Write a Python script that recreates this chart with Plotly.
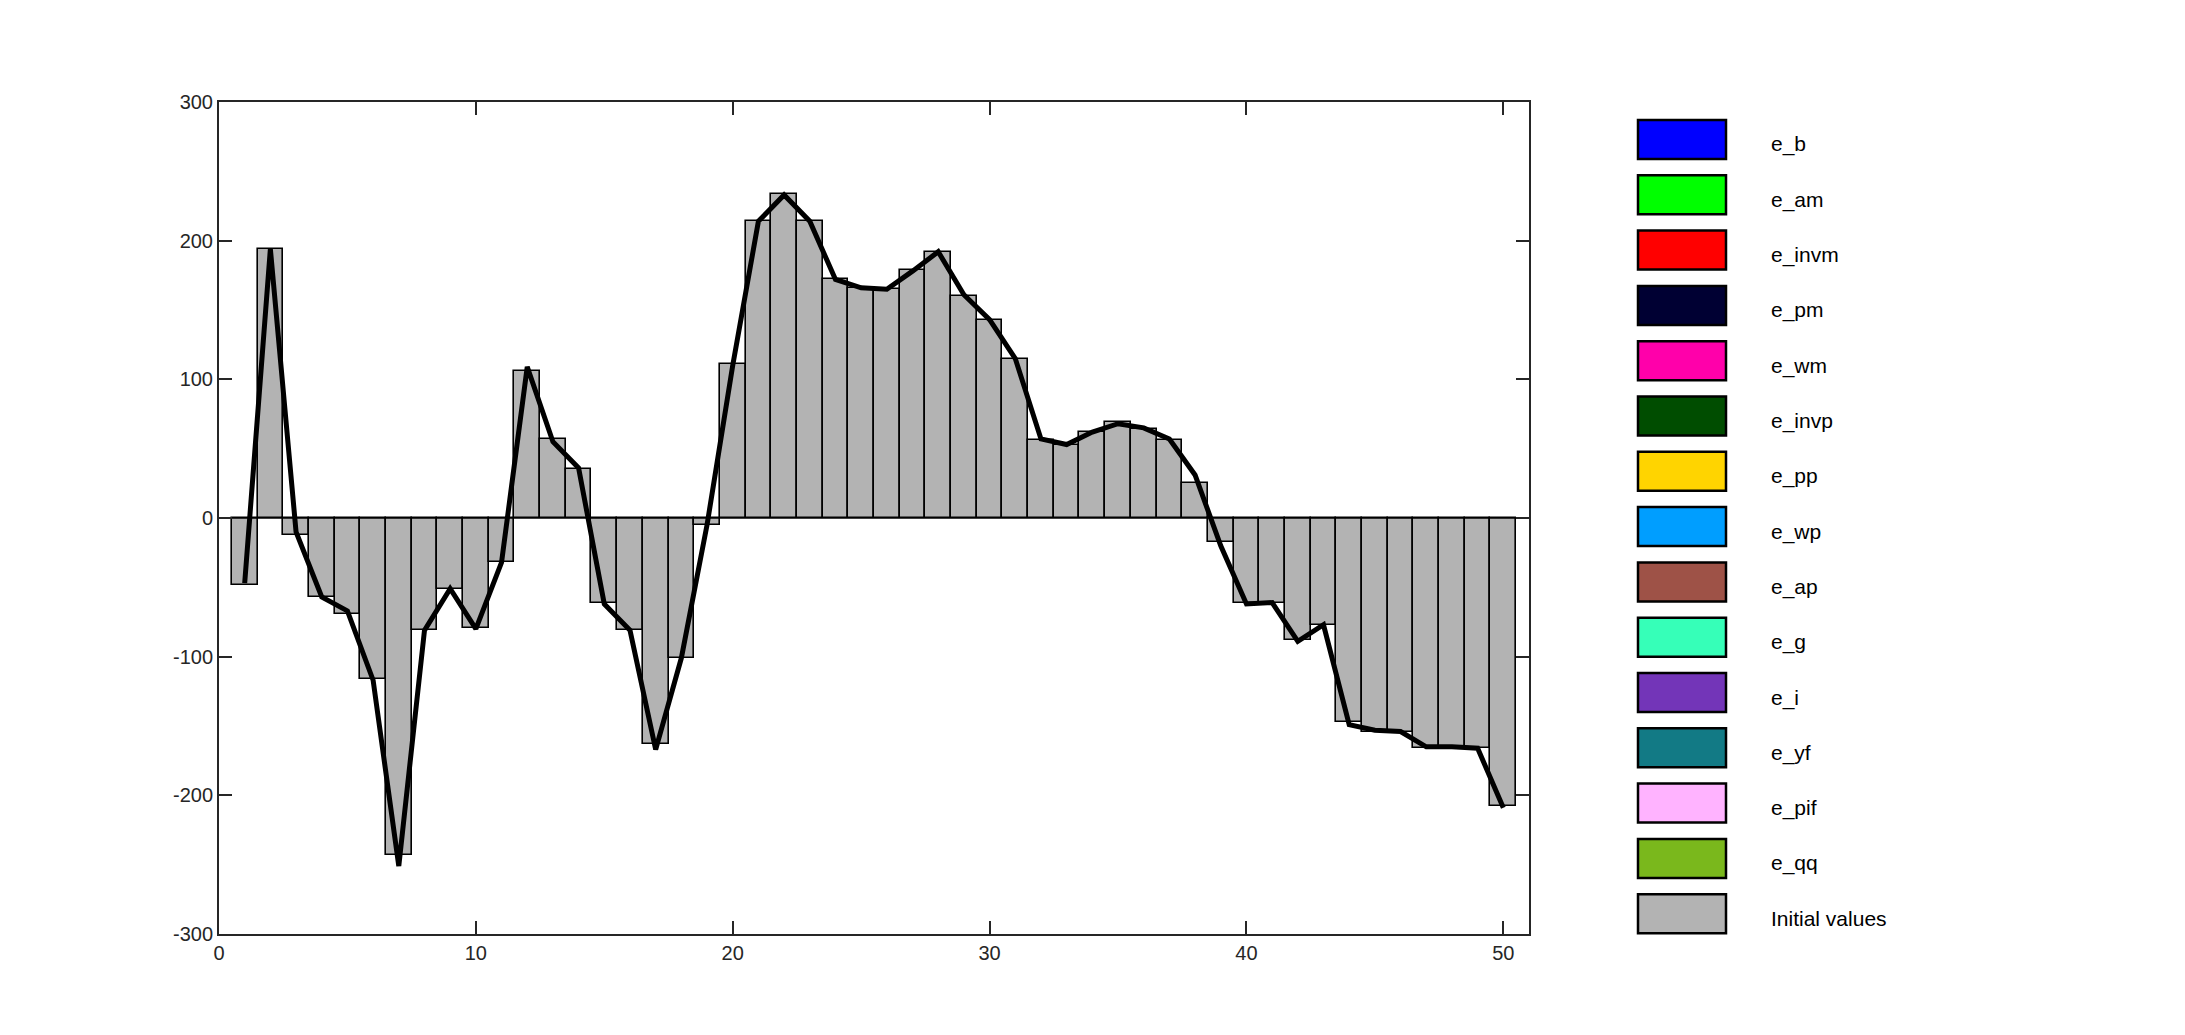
import plotly.graph_objects as go

periods = list(range(1, 51))

initial_values = [
    -48, 194, -12, -57, -69, -116, -243, -81, -51, -79,
    -32, 106, 57, 35, -61, -81, -163, -101, -5, 111,
    214, 234, 214, 172, 166, 165, 179, 192, 160, 143,
    115, 56, 53, 62, 69, 64, 56, 25, -17, -61,
    -61, -88, -77, -147, -154, -154, -166, -165, -166, -208,
]

total = [
    -47, 194, -10, -57, -67, -117, -251, -81, -51, -80,
    -32, 109, 55, 36, -62, -81, -167, -101, -5, 110,
    214, 233, 214, 172, 166, 165, 178, 192, 161, 143,
    115, 57, 53, 62, 68, 65, 57, 31, -20, -62,
    -61, -89, -77, -149, -153, -154, -165, -165, -166, -209,
]

legend_names = ["e_b", "e_am", "e_invm", "e_pm", "e_wm", "e_invp", "e_pp", "e_wp",
                "e_ap", "e_g", "e_i", "e_yf", "e_pif", "e_qq", "Initial values"]
legend_colors = ["#0000ff", "#00ff00", "#ff0000", "#000033", "#ff00aa", "#004d00",
                 "#ffd400", "#009eff", "#9e5247", "#36ffb8", "#7335b8", "#127a85",
                 "#ffb3ff", "#7ab81c", "#b3b3b3"]

x_ticks = [0, 10, 20, 30, 40, 50]
y_ticks = [-300, -200, -100, 0, 100, 200, 300]

# page has an 8px body margin; compensate so the plot area lands where the reference has it
OFF = 8
W, H = 2185 - OFF, 1035 - OFF
ML, MR, MT, MB = 219 - OFF, 656, 102 - OFF, 101
PW, PH = W - ML - MR, H - MT - MB

FONT = "Liberation Sans, Arial, Helvetica, sans-serif"
AX = "#262626"

fig = go.Figure()

fig.add_trace(go.Bar(
    x=periods, y=initial_values, width=1,
    marker=dict(color="#b3b3b3", line=dict(color="black", width=1.6)),
    showlegend=False, hoverinfo="x+y",
))

fig.add_trace(go.Scatter(
    x=[periods[0] - 0.5, periods[-1] + 0.5], y=[0, 0], mode="lines",
    line=dict(color="black", width=1.6), showlegend=False, hoverinfo="skip",
))

fig.add_trace(go.Scatter(
    x=periods, y=total, mode="lines",
    line=dict(color="black", width=5), showlegend=False,
))

def px_to_paper_x(px):
    # px given in window coordinates
    return (px - OFF - ML) / PW

def px_to_paper_y(py):
    return (MT + PH - (py - OFF)) / PH

shapes = []
annotations = []
box_l, box_r = 1638, 1726
top0, box_h, step = 120, 39, 55.3
text_x = 1769
for i, (name, col) in enumerate(zip(legend_names, legend_colors)):
    t = top0 + i * step
    shapes.append(dict(
        type="rect", xref="paper", yref="paper",
        x0=px_to_paper_x(box_l), x1=px_to_paper_x(box_r),
        y0=px_to_paper_y(t + box_h), y1=px_to_paper_y(t),
        fillcolor=col, line=dict(color="black", width=2.5), layer="above",
    ))
    annotations.append(dict(
        xref="paper", yref="paper", x=px_to_paper_x(text_x),
        y=px_to_paper_y(t + box_h / 2 + 5), xanchor="left", yanchor="middle",
        text=name, showarrow=False, font=dict(family=FONT, size=21, color="black"),
    ))

fig.update_layout(
    width=W, height=H,
    margin=dict(l=ML, r=MR, t=MT, b=MB, autoexpand=False),
    paper_bgcolor="white", plot_bgcolor="white",
    bargap=0,
    font=dict(family=FONT, size=20, color=AX),
    shapes=shapes, annotations=annotations,
    showlegend=False,
)

axis_style = dict(
    showgrid=False, zeroline=False, automargin=False,
    showline=True, linecolor=AX, linewidth=2, mirror="allticks",
    ticks="inside", ticklen=13, tickwidth=2, tickcolor=AX,
    tickfont=dict(family=FONT, size=20, color=AX),
)

fig.update_xaxes(range=[0, 51], tickvals=x_ticks, ticktext=[str(v) for v in x_ticks], **axis_style)
fig.update_yaxes(range=[-300, 300], tickvals=y_ticks, ticktext=[str(v) for v in y_ticks], **axis_style)

fig.write_html("out.html")
